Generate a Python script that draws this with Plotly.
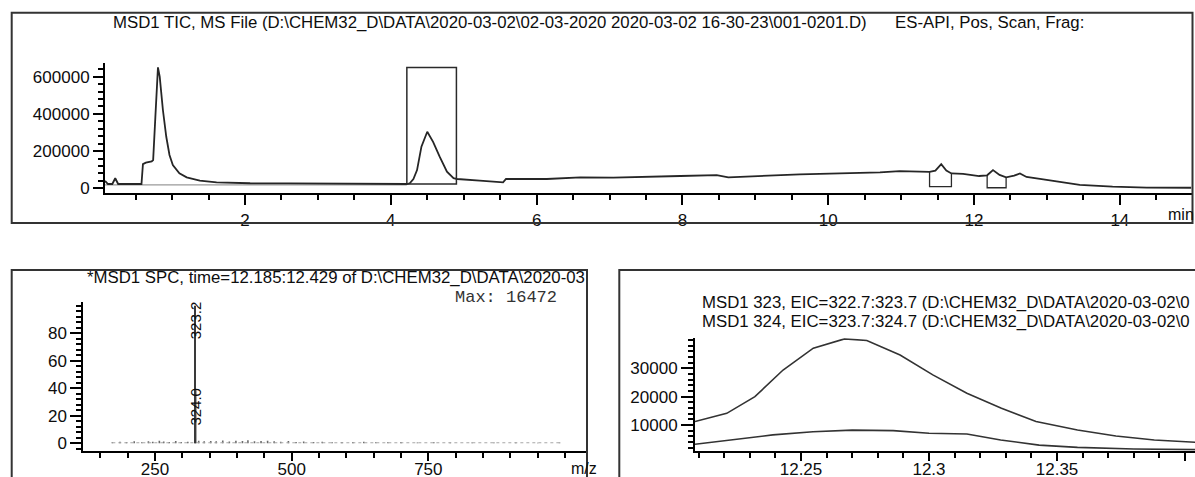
import plotly.graph_objects as go

W, H = 1195, 477

# ---------------- data ----------------
tic_time = [0.08, 0.12, 0.18, 0.22, 0.26, 0.40, 0.58, 0.60, 0.64, 0.72, 0.74, 0.77, 0.806,
            0.83, 0.874, 0.92, 0.964, 1.01, 1.10, 1.20, 1.38, 1.61, 2.07, 2.6, 3.2, 3.8, 4.22,
            4.26, 4.31, 4.36, 4.42, 4.50, 4.58, 4.67, 4.77, 4.86, 4.91, 5.22, 5.54, 5.58,
            6.14, 6.60, 7.05, 7.97, 8.47, 8.63, 9.61, 10.71, 10.98, 11.39, 11.47, 11.55,
            11.62, 11.69, 11.85, 12.07, 12.18, 12.26, 12.35, 12.44, 12.55, 12.63, 12.72,
            12.95, 13.18, 13.45, 13.90, 14.37, 14.98]
tic_int = [40000, 23000, 23000, 54000, 23000, 23000, 23000, 130000, 138000, 145000, 152000, 380000, 650000,
           600000, 421000, 277000, 179000, 125000, 81000, 59000, 41000, 32000, 27000, 26000, 25000, 24000, 23000,
           27000, 50000, 98000, 224000, 304000, 250000, 170000, 89000, 54000, 50000, 41000, 32000, 50000,
           50000, 59000, 57000, 66000, 71000, 59000, 75000, 86000, 92000, 88000, 95000, 130000,
           95000, 80000, 77000, 66000, 70000, 98000, 72000, 59000, 68000, 80000, 61000,
           48000, 36000, 18000, 9000, 4000, 3000]
baseline_time = [0.08, 4.22]
baseline_int = [18000, 18000]
integ_box = [4.22, 4.90, 23000, 650000]          # x0, x1, y0, y1
small_boxes = [[11.39, 11.69, 8600, 88000, 82000],
               [12.18, 12.44, 3000, 68000, 60000]]  # x0, x1, ybottom, yleft, yright
tic_xticks = [2, 4, 6, 8, 10, 12, 14]
tic_xtext = ["2", "4", "6", "8", "10", "12", "14"]
tic_yticks = [0, 200000, 400000, 600000]
tic_ytext = ["0", "200000", "400000", "600000"]

spec_mz = [323.2, 324.0]
spec_rel = [100, 39]
spec_labels = ["323.2", "324.0"]
spec_label_pos = [89.5, 27]
noise_mz = [172, 186, 198, 212, 226, 238, 246, 258, 266, 276, 288, 298, 310, 330, 340, 352,
            362, 374, 386, 398, 410, 420, 432, 444, 456, 468, 480, 494, 508, 522, 540, 556,
            574, 592, 612, 632, 654, 676, 700, 730, 760, 790, 830, 870, 910, 950, 990]
noise_int = [0.8, 1.2, 0.9, 1.5, 0.7, 1.4, 1.1, 1.8, 1.3, 1.0, 1.6, 0.9, 1.2, 1.9, 1.4, 1.7,
             1.5, 2.0, 1.3, 1.8, 1.6, 2.2, 1.4, 1.7, 1.9, 1.5, 1.2, 1.6, 1.0, 1.3, 0.9, 1.1,
             0.8, 1.0, 0.9, 1.2, 0.8, 0.7, 1.0, 0.6, 0.8, 0.5, 0.6, 0.5, 0.6, 0.4, 0.5]
spec_xticks = [250, 500, 750]
spec_xtext = ["250", "500", "750"]
spec_yticks = [0, 20, 40, 60, 80]
spec_ytext = ["0", "20", "40", "60", "80"]

eic_time = [12.2086, 12.221, 12.232, 12.243, 12.2548, 12.267, 12.2757, 12.2887, 12.3015,
            12.3148, 12.3283, 12.3418, 12.358, 12.373, 12.388, 12.4057]
eic_323 = [11200, 14100, 20000, 29400, 37100, 40400, 39800, 34700, 27700, 21200, 15900,
           11200, 8200, 6100, 4700, 3800]
eic324_time = [12.2086, 12.2234, 12.239, 12.2547, 12.270, 12.286, 12.300, 12.3148, 12.328,
               12.343, 12.358, 12.380, 12.4057]
eic_324 = [3200, 4700, 6500, 7600, 8200, 8000, 7100, 6800, 4700, 2900, 2100, 1500, 1300]
eic_xticks = [12.25, 12.3, 12.35, 12.4]
eic_xtext = ["12.25", "12.3", "12.35", ""]
eic_yticks = [10000, 20000, 30000]
eic_ytext = ["10000", "20000", "30000"]

tic_title_a = "MSD1 TIC, MS File (D:\\CHEM32_D\\DATA\\2020-03-02\\02-03-2020 2020-03-02 16-30-23\\001-0201.D)"
tic_title_b = "ES-API, Pos, Scan, Frag:"
spec_title = "*MSD1 SPC, time=12.185:12.429 of D:\\CHEM32_D\\DATA\\2020-03"
spec_max = "Max: 16472"
eic_title_1 = "MSD1 323, EIC=322.7:323.7 (D:\\CHEM32_D\\DATA\\2020-03-02\\0"
eic_title_2 = "MSD1 324, EIC=323.7:324.7 (D:\\CHEM32_D\\DATA\\2020-03-02\\0"

# ---------------- helpers ----------------
FONT = "Liberation Sans, Arial, sans-serif"
TXT = "#0d0d0d"
LINE = "#262626"


def px(x):
    return x / W


def py(y):
    return 1 - y / H


def axis(domain, rng, tickvals, ticktext, minor_dtick=None, ticklen=10, anchor=None, standoff=None):
    d = dict(domain=domain, range=rng, showline=True, linecolor="black", linewidth=2,
             ticks="outside", ticklen=ticklen, tickwidth=1.5, tickcolor="black",
             tickvals=tickvals, ticktext=ticktext, showgrid=False, zeroline=False, fixedrange=True,
             automargin=False,
             tickfont=dict(family=FONT, size=17, color=TXT), anchor=anchor)
    if standoff is not None:
        d["ticklabelstandoff"] = standoff
    if minor_dtick is not None:
        d["minor"] = dict(ticks="outside", ticklen=5, tickwidth=1.5, tickcolor="black",
                          dtick=minor_dtick, tick0=0, showgrid=False)
    return d


fig = go.Figure()

# TIC
fig.add_trace(go.Scatter(x=baseline_time, y=baseline_int, mode="lines",
                         line=dict(color="#9a9a9a", width=1.2), xaxis="x", yaxis="y",
                         hoverinfo="skip"))
fig.add_trace(go.Scatter(x=tic_time, y=tic_int, mode="lines",
                         line=dict(color=LINE, width=1.8), xaxis="x", yaxis="y"))

# Spectrum noise stems
nx, ny = [], []
for m, v in zip(noise_mz, noise_int):
    nx += [m, m, None]
    ny += [0, v, None]
fig.add_trace(go.Scatter(x=nx, y=ny, mode="lines", line=dict(color="#6a6a6a", width=1.6),
                         xaxis="x2", yaxis="y2", hoverinfo="skip"))
fig.add_trace(go.Scatter(x=[noise_mz[0], noise_mz[-1]], y=[0.4, 0.4], mode="lines",
                         line=dict(color="#a8a8a8", width=1.2, dash="dot"),
                         xaxis="x2", yaxis="y2", hoverinfo="skip"))
sx, sy = [], []
for m, v in zip(spec_mz, spec_rel):
    sx += [m, m, None]
    sy += [0, v, None]
fig.add_trace(go.Scatter(x=sx, y=sy, mode="lines", line=dict(color="#3a3a3a", width=2),
                         xaxis="x2", yaxis="y2"))

# EIC
fig.add_trace(go.Scatter(x=eic_time, y=eic_323, mode="lines", line=dict(color="#333333", width=1.6),
                         xaxis="x3", yaxis="y3"))
fig.add_trace(go.Scatter(x=eic324_time, y=eic_324, mode="lines", line=dict(color="#333333", width=1.6),
                         xaxis="x3", yaxis="y3"))

shapes = []
# frames
shapes.append(dict(type="rect", xref="paper", yref="paper", x0=px(11.7), x1=px(1192.5),
                   y0=py(223), y1=py(12.7), line=dict(color="#333", width=2)))
shapes.append(dict(type="path", xref="paper", yref="paper",
                   path=f"M {px(587)} {py(485)} L {px(587)} {py(270)} L {px(11.7)} {py(270)} L {px(11.7)} {py(485)}",
                   line=dict(color="#333", width=2)))
shapes.append(dict(type="path", xref="paper", yref="paper",
                   path=f"M {px(1205)} {py(270)} L {px(619.3)} {py(270)} L {px(619.3)} {py(485)}",
                   line=dict(color="#333", width=2)))
# integration box
x0, x1, y0, y1 = integ_box
shapes.append(dict(type="rect", xref="x", yref="y", x0=x0, x1=x1, y0=y0, y1=y1,
                   line=dict(color="#2a2a2a", width=1.5)))
for bx0, bx1, yb, yl, yr in small_boxes:
    shapes.append(dict(type="path", xref="x", yref="y",
                       path=f"M {bx0} {yl} L {bx0} {yb} L {bx1} {yb} L {bx1} {yr}",
                       line=dict(color="#2a2a2a", width=1.3)))

ann = []
tf = dict(family=FONT, size=16.8, color=TXT)
ann.append(dict(x=px(111), y=py(23), xref="paper", yref="paper", text=tic_title_a,
                showarrow=False, xanchor="left", yanchor="middle", font=tf))
ann.append(dict(x=px(893), y=py(23), xref="paper", yref="paper", text=tic_title_b,
                showarrow=False, xanchor="left", yanchor="middle", font=tf))
ann.append(dict(x=px(1166), y=py(214), xref="paper", yref="paper", text="min",
                showarrow=False, xanchor="left", yanchor="middle", font=dict(family=FONT, size=16, color=TXT)))
ann.append(dict(x=px(85), y=py(277), xref="paper", yref="paper", text=spec_title,
                showarrow=False, xanchor="left", yanchor="middle", font=tf))
ann.append(dict(x=px(453), y=py(297), xref="paper", yref="paper", text=spec_max,
                showarrow=False, xanchor="left", yanchor="middle",
                font=dict(family="Liberation Mono, Courier New, monospace", size=17, color="#333")))
ann.append(dict(x=px(569), y=py(468), xref="paper", yref="paper", text="m/z",
                showarrow=False, xanchor="left", yanchor="middle", font=dict(family=FONT, size=16, color=TXT)))
for m, lab, pos in zip(spec_mz, spec_labels, spec_label_pos):
    ann.append(dict(x=m, y=pos, xref="x2", yref="y2", text=lab, textangle=-90, showarrow=False,
                    xanchor="center", yanchor="middle", font=dict(family=FONT, size=15, color=TXT)))
ann.append(dict(x=px(700), y=py(302), xref="paper", yref="paper", text=eic_title_1,
                showarrow=False, xanchor="left", yanchor="middle", font=tf))
ann.append(dict(x=px(700), y=py(321.5), xref="paper", yref="paper", text=eic_title_2,
                showarrow=False, xanchor="left", yanchor="middle", font=tf))

fig.update_layout(
    width=W, height=H, autosize=False,
    margin=dict(l=0, r=0, t=0, b=0, pad=0, autoexpand=False),
    paper_bgcolor="white", plot_bgcolor="white", showlegend=False,
    xaxis=axis([px(105), px(1191.5)], [0.0796, 14.983], tic_xticks, tic_xtext, minor_dtick=0.5, anchor="y"),
    yaxis=axis([py(193.3), py(63.3)], [-26900, 672000], tic_yticks, tic_ytext, minor_dtick=40000, anchor="x"),
    xaxis2=axis([px(83.3), px(587)], [118.9, 1040.2], spec_xticks, spec_xtext, minor_dtick=50, ticklen=8,
                anchor="y2", standoff=-6),
    yaxis2=axis([py(450.7), py(301.7)], [-5.4, 103], spec_yticks, spec_ytext, minor_dtick=4, ticklen=11, anchor="x2"),
    xaxis3=axis([px(695), 1.0], [12.2086, 12.4039], eic_xticks, eic_xtext, minor_dtick=0.01, ticklen=8,
                anchor="y3", standoff=-6),
    yaxis3=axis([py(450.7), py(338.3)], [920, 40600], eic_yticks, eic_ytext, minor_dtick=2000, ticklen=12, anchor="x3"),
    shapes=shapes, annotations=ann,
)

fig.write_html("out.html", config={"displayModeBar": False},
               post_script="document.body.style.margin='0';document.body.style.overflow='hidden';")
